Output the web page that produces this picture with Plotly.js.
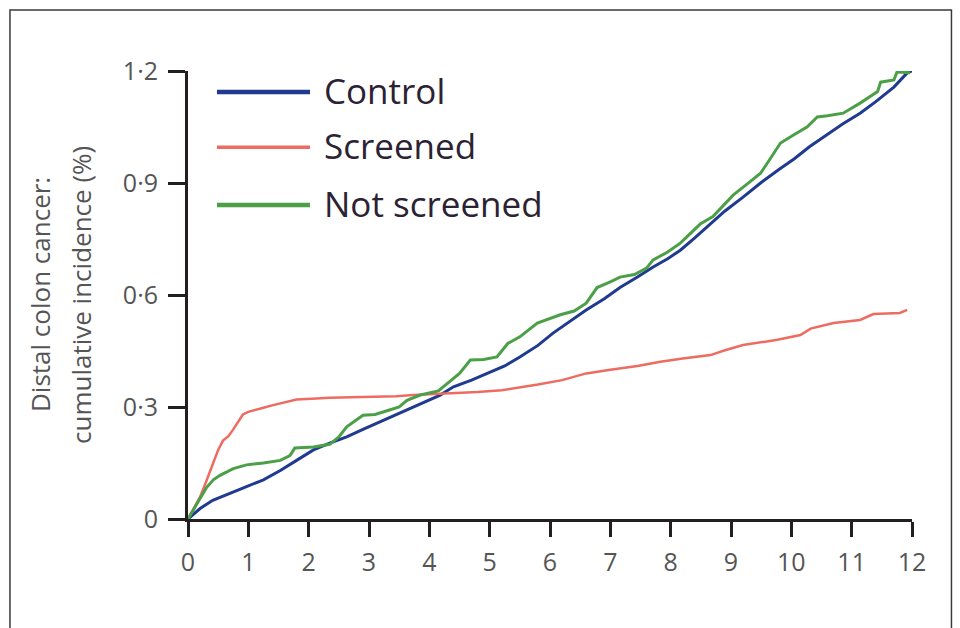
<!DOCTYPE html>
<html>
<head>
<meta charset="utf-8">
<script src="https://cdn.plot.ly/plotly-3.0.1.min.js"></script>
<style>
  html, body { margin: 0; padding: 0; background: #ffffff; }
  #chart { width: 960px; height: 628px; }
</style>
</head>
<body>
<div id="chart"></div>
<script>
// Years since randomisation
const controlX = [0, 0.2, 0.41, 0.7, 0.97, 1.25, 1.53, 1.8, 2.08, 2.35, 2.63, 2.9, 3.18, 3.45, 3.73, 4.0, 4.18, 4.4, 4.7, 4.96, 5.25, 5.5, 5.8, 6.05, 6.3, 6.6, 6.9, 7.16, 7.45, 7.71, 7.95, 8.16, 8.4, 8.66, 8.9, 9.2, 9.49, 9.8, 10.05, 10.3, 10.6, 10.85, 11.14, 11.4, 11.7, 11.92, 12];
const controlY = [0, 0.028, 0.05, 0.07, 0.087, 0.105, 0.13, 0.157, 0.185, 0.203, 0.22, 0.24, 0.26, 0.28, 0.30, 0.318, 0.332, 0.354, 0.372, 0.39, 0.41, 0.434, 0.465, 0.498, 0.527, 0.56, 0.59, 0.62, 0.648, 0.675, 0.697, 0.72, 0.753, 0.79, 0.825, 0.862, 0.90, 0.937, 0.965, 0.997, 1.03, 1.058, 1.087, 1.118, 1.157, 1.195, 1.2];

const screenedX = [0, 0.1, 0.2, 0.3, 0.41, 0.5, 0.58, 0.67, 0.75, 0.83, 0.91, 1.0, 1.08, 1.25, 1.41, 1.6, 1.8, 2.05, 2.35, 2.7, 3.0, 3.18, 3.45, 3.73, 4.0, 4.4, 4.8, 5.2, 5.5, 5.8, 6.2, 6.6, 7.0, 7.45, 7.83, 8.2, 8.66, 8.9, 9.2, 9.5, 9.77, 10.15, 10.32, 10.7, 11.14, 11.36, 11.8, 11.92];
const screenedY = [0, 0.03, 0.059, 0.1, 0.15, 0.185, 0.21, 0.222, 0.24, 0.262, 0.28, 0.287, 0.29, 0.298, 0.305, 0.312, 0.32, 0.322, 0.325, 0.326, 0.327, 0.327, 0.329, 0.332, 0.334, 0.337, 0.34, 0.345, 0.352, 0.36, 0.372, 0.39, 0.4, 0.41, 0.421, 0.43, 0.439, 0.452, 0.466, 0.474, 0.48, 0.493, 0.51, 0.525, 0.533, 0.549, 0.552, 0.56];

const notScreenedX = [0, 0.15, 0.31, 0.42, 0.53, 0.75, 0.97, 1.25, 1.53, 1.69, 1.77, 2.08, 2.35, 2.5, 2.63, 2.9, 3.1, 3.3, 3.5, 3.63, 3.85, 4.15, 4.3, 4.5, 4.68, 4.9, 5.12, 5.3, 5.5, 5.79, 6.17, 6.4, 6.6, 6.78, 7.0, 7.16, 7.4, 7.6, 7.71, 7.95, 8.16, 8.49, 8.7, 9.04, 9.25, 9.49, 9.65, 9.82, 10.05, 10.26, 10.43, 10.6, 10.86, 11.14, 11.43, 11.48, 11.7, 11.75, 11.97];
const notScreenedY = [0, 0.04, 0.085, 0.105, 0.117, 0.135, 0.145, 0.15, 0.157, 0.17, 0.19, 0.193, 0.2, 0.22, 0.247, 0.278, 0.28, 0.29, 0.3, 0.318, 0.332, 0.343, 0.364, 0.39, 0.426, 0.427, 0.434, 0.47, 0.488, 0.525, 0.547, 0.557, 0.578, 0.62, 0.635, 0.648, 0.655, 0.672, 0.694, 0.715, 0.739, 0.79, 0.81, 0.868, 0.895, 0.926, 0.965, 1.007, 1.03, 1.05, 1.077, 1.08, 1.087, 1.114, 1.145, 1.17, 1.176, 1.197, 1.195];

const seriesNames = ["Control", "Screened", "Not screened"];
const seriesColors = ["#1f3a8f", "#ee6b61", "#4b9f47"];

const xTickVals = [0, 1, 2, 3, 4, 5, 6, 7, 8, 9, 10, 11, 12];
const xTickText = ["0", "1", "2", "3", "4", "5", "6", "7", "8", "9", "10", "11", "12"];
const yTickVals = [0, 0.3, 0.6, 0.9, 1.2];
const yTickText = ["0", "0·3", "0·6", "0·9", "1·2"];
const yTitleLines = ["Distal colon cancer:", "cumulative incidence (%)"];

const widths = [3, 2.5, 3];
const xs = [controlX, screenedX, notScreenedX];
const ys = [controlY, screenedY, notScreenedY];

const traces = seriesNames.map((n, i) => ({
  type: "scatter", mode: "lines", name: n,
  x: xs[i], y: ys[i],
  line: { color: seriesColors[i], width: widths[i] },
  showlegend: false
}));
const FONT = "Open Sans, Noto Sans, DejaVu Sans, sans-serif";

const shapes = [];
const annotations = [];
// frame
shapes.push({ type: "rect", xref: "paper", yref: "paper", x0: -0.2459, x1: 1.0545, y0: -0.3, y1: 1.1362,
  line: { color: "#3a3a3a", width: 1.5 }, fillcolor: "rgba(0,0,0,0)", layer: "below" });

// legend
const legY = [0.953, 0.830, 0.701];
seriesNames.forEach((n, i) => {
  shapes.push({ type: "line", xref: "paper", yref: "paper", x0: 0.040, x1: 0.1685, y0: legY[i], y1: legY[i],
    line: { color: seriesColors[i], width: i === 1 ? 3.5 : 4.5 } });
  annotations.push({ xref: "paper", yref: "paper", x: 0.1855, y: legY[i] + 0.004, xanchor: "left", yanchor: "middle",
    text: n, showarrow: false, font: { family: FONT, size: 35, color: "#2b2233" } });
});
// y-axis title (two lines)
const titleX = [-0.2044, -0.1478];
yTitleLines.forEach((t, i) => {
  annotations.push({ xref: "paper", yref: "paper", x: titleX[i], y: 0.5, xanchor: "center", yanchor: "middle",
    text: t, textangle: -90, showarrow: false, font: { family: FONT, size: 26, color: "#555555" } });
});

const layout = {
  width: 960, height: 628,
  margin: { l: 188, r: 48, t: 71, b: 109 },
  paper_bgcolor: "#ffffff", plot_bgcolor: "#ffffff",
  xaxis: {
    range: [0, 12], tickvals: xTickVals, ticktext: xTickText,
    showgrid: false, zeroline: false, showline: true, linecolor: "#231f20", linewidth: 3,
    ticks: "outside", ticklen: 15, tickwidth: 3, tickcolor: "#231f20",
    ticklabelstandoff: 4,
    tickfont: { family: FONT, size: 25, color: "#555555" }
  },
  yaxis: {
    range: [0, 1.2], tickvals: yTickVals, ticktext: yTickText,
    showgrid: false, zeroline: false, showline: true, linecolor: "#231f20", linewidth: 3,
    ticks: "outside", ticklen: 17, tickwidth: 3, tickcolor: "#231f20",
    ticklabelstandoff: 5,
    tickfont: { family: FONT, size: 25, color: "#555555" }
  },
  shapes: shapes,
  annotations: annotations,
  showlegend: false
};

Plotly.newPlot("chart", traces, layout, { displayModeBar: false, staticPlot: true });
</script>
</body>
</html>
